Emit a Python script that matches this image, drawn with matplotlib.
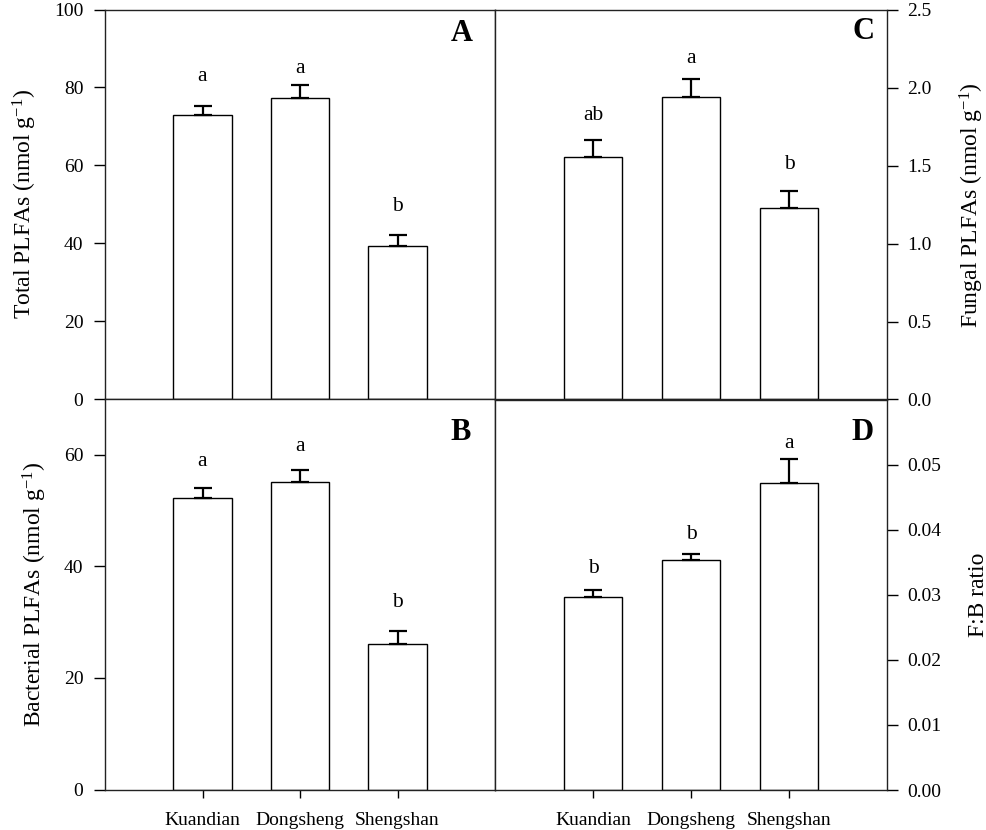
import numpy as np
import matplotlib
matplotlib.use('Agg')
import matplotlib.pyplot as plt

plt.rcParams['font.family'] = ['Liberation Serif', 'DejaVu Serif']
plt.rcParams['mathtext.fontset'] = 'custom'
plt.rcParams['mathtext.rm'] = 'Liberation Serif'
plt.rcParams['mathtext.it'] = 'Liberation Serif:italic'

sites = ['Kuandian', 'Dongsheng', 'Shengshan']

total_mean = [73.0, 77.2, 39.2]
total_se = [2.1, 3.3, 3.0]
total_letters = ['a', 'a', 'b']
total_letter_y = [81.7, 83.6, 48.3]

bact_mean = [52.2, 55.1, 26.1]
bact_se = [1.8, 2.1, 2.4]
bact_letters = ['a', 'a', 'b']
bact_letter_y = [58.0, 60.7, 32.7]

fung_mean = [1.556, 1.943, 1.229]
fung_se = [0.107, 0.117, 0.111]
fung_letters = ['ab', 'a', 'b']
fung_letter_y = [1.794, 2.162, 1.477]

fb_mean = [0.0297, 0.0353, 0.0471]
fb_se = [0.0011, 0.0010, 0.0037]
fb_letters = ['b', 'b', 'a']
fb_letter_y = [0.0333, 0.0386, 0.0525]

W, H = 987, 830
fig = plt.figure(figsize=(W / 100, H / 100), dpi=100)


def px_axes(x0, y0, x1, y1):
    return fig.add_axes([x0 / W, 1 - y1 / H, (x1 - x0) / W, (y1 - y0) / H])


def draw_panel(ax, mean, se, letters, letter_y, ylim, yticks, yfmt, ylabel,
               tag, tag_xy, side, bottom):
    x = np.arange(1, len(mean) + 1)
    ax.bar(x, mean, width=0.6, color='white', edgecolor='black', linewidth=1.0, zorder=2)
    ax.errorbar(x, mean, yerr=[np.zeros(len(se)), se], fmt='none', ecolor='black',
                elinewidth=1.6, capsize=6.5, capthick=1.6, zorder=3)
    for xi, lab, ly in zip(x, letters, letter_y):
        ax.text(xi, ly, lab, ha='center', va='baseline', fontsize=15.5)
    ax.text(tag_xy[0], tag_xy[1], tag, transform=ax.transAxes, ha='right', va='baseline',
            fontsize=22, fontweight='bold')
    ax.set_xlim(0, 4)
    ax.set_ylim(*ylim)
    ax.set_yticks(yticks)
    ax.set_yticklabels([yfmt.format(v) for v in yticks])
    for s in ax.spines.values():
        s.set_linewidth(1.0)
        s.set_color('#222222')
    if side == 'right':
        ax.yaxis.tick_right()
        ax.yaxis.set_label_position('right')
        ax.tick_params(axis='y', direction='out', length=8, width=1.0, pad=6.5, labelsize=14)
        ax.set_ylabel(ylabel, fontsize=17, labelpad=19, rotation=90)
    else:
        ax.tick_params(axis='y', direction='out', length=8, width=1.0, pad=7.5, labelsize=14)
        ax.set_ylabel(ylabel, fontsize=17, labelpad=11)
    if bottom:
        ax.set_xticks(x)
        ax.set_xticklabels(sites)
        ax.tick_params(axis='x', direction='out', length=6, width=1.0, pad=10, labelsize=14)
    else:
        ax.set_xticks([])


axA = px_axes(105, 9.5, 495, 399)
axB = px_axes(105, 399, 495, 789.5)
axC = px_axes(495, 10, 887, 399.5)
axD = px_axes(495, 399.5, 887, 790)

draw_panel(axA, total_mean, total_se, total_letters, total_letter_y, (0, 100),
           [0, 20, 40, 60, 80, 100], '{:.0f}', 'Total PLFAs (nmol g$^{-1}$)',
           'A', (0.943, 0.92), 'left', False)
draw_panel(axB, bact_mean, bact_se, bact_letters, bact_letter_y, (0, 70),
           [0, 20, 40, 60], '{:.0f}', 'Bacterial PLFAs (nmol g$^{-1}$)',
           'B', (0.938, 0.896), 'left', True)
draw_panel(axC, fung_mean, fung_se, fung_letters, fung_letter_y, (0, 2.5),
           [0, 0.5, 1.0, 1.5, 2.0, 2.5], '{:.1f}', 'Fungal PLFAs (nmol g$^{-1}$)',
           'C', (0.967, 0.925), 'right', False)
draw_panel(axD, fb_mean, fb_se, fb_letters, fb_letter_y, (0, 0.06),
           [0, 0.01, 0.02, 0.03, 0.04, 0.05], '{:.2f}', 'F:B ratio',
           'D', (0.965, 0.897), 'right', True)

fig.savefig('out.png', dpi=100)
